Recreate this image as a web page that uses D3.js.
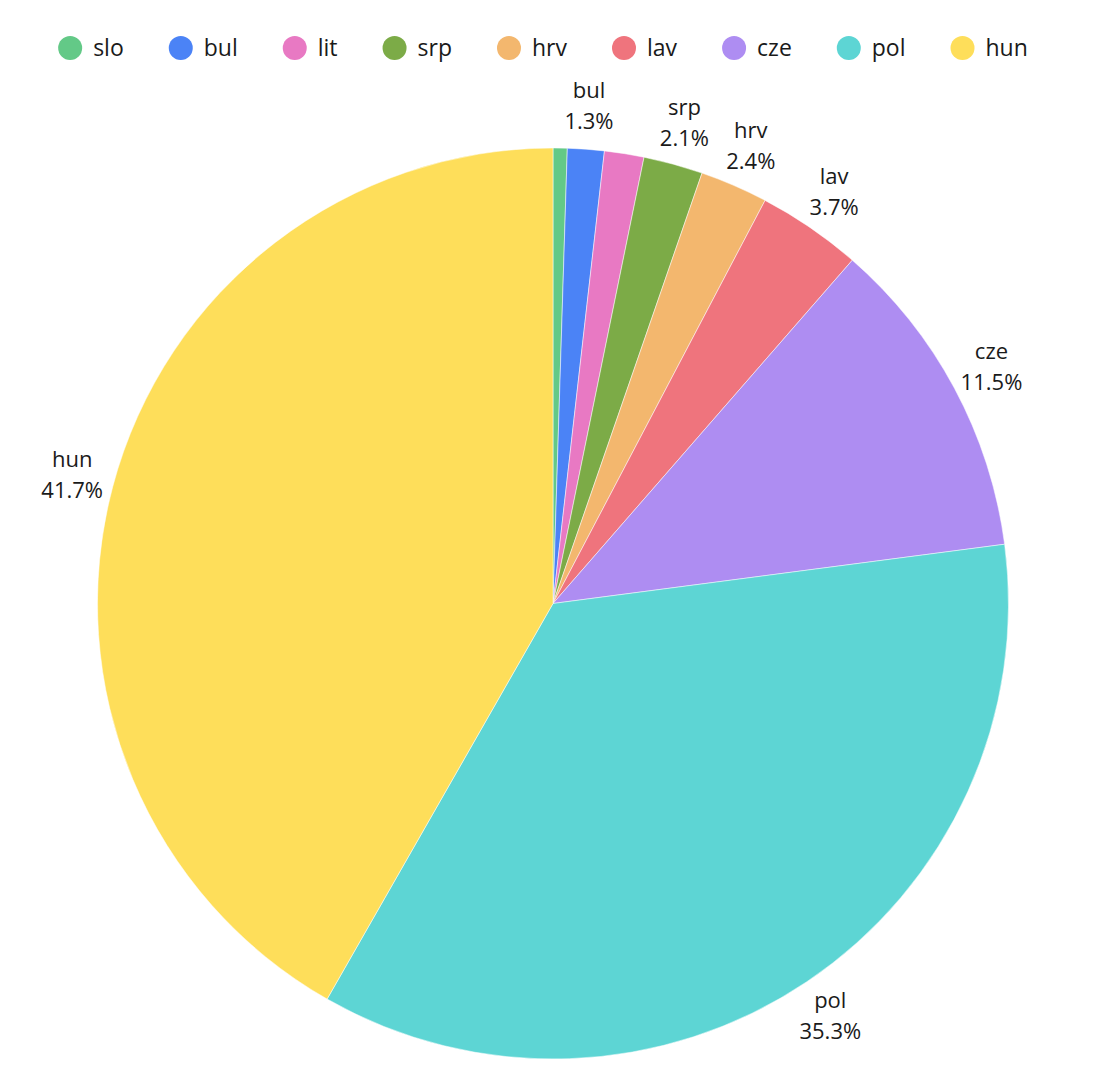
<!DOCTYPE html>
<html>
<head>
<meta charset="utf-8">
<script src="https://cdn.jsdelivr.net/npm/d3@7"></script>
<style>
  body { margin: 0; background: #fff; }
  svg { display: block; font-family: "Open Sans", sans-serif; }
</style>
</head>
<body>
<svg width="1100" height="1080"></svg>
<script>
var categories = ["slo", "bul", "lit", "srp", "hrv", "lav", "cze", "pol", "hun"];
var values = [0.5, 1.3, 1.4, 2.1, 2.4, 3.7, 11.5, 35.3, 41.7];
var colors = ["#63c987", "#4b83f6", "#e879c3", "#7cab47", "#f3b76e", "#ef747d", "#ae8df2", "#5dd5d4", "#fede5a"];

var svg = d3.select("svg"),
    cx = 553, cy = 603.5, radius = 455.5;

var data = categories.map((c, i) => ({ name: c, value: values[i], color: colors[i] }));
var total = d3.sum(values);

var pie = d3.pie().value(d => d.value).sort(null);
var arc = d3.arc().innerRadius(0).outerRadius(radius);
var labelArc = d3.arc().innerRadius(radius + 42).outerRadius(radius + 42);

var g = svg.append("g").attr("transform", "translate(" + cx + "," + cy + ")");
var arcs = pie(data);

g.selectAll("path")
    .data(arcs)
    .join("path")
    .attr("d", arc)
    .attr("fill", d => d.data.color)
    .attr("stroke", "#fff")
    .attr("stroke-width", 0.5);

// labels: skip tiny slices, then drop any that would collide with one already placed
var placed = [];
arcs.forEach(d => {
    var pct = d.data.value / total * 100;
    if (pct < 1) return;
    var p = labelArc.centroid(d);
    var t = g.append("g")
        .attr("transform", "translate(" + p[0] + "," + p[1] + ")")
        .attr("text-anchor", "middle")
        .attr("font-size", 22)
        .attr("fill", "#1a1a1a");
    t.append("text").attr("x", 0).attr("y", -9).text(d.data.name);
    t.append("text").attr("x", 0).attr("y", 22).text(pct.toFixed(1) + "%");
    var b = t.node().getBBox();
    var box = { x0: p[0] + b.x, x1: p[0] + b.x + b.width, y0: p[1] + b.y, y1: p[1] + b.y + b.height };
    var hit = placed.some(o => box.x0 < o.x1 && box.x1 > o.x0 && box.y0 < o.y1 && box.y1 > o.y0);
    if (hit) t.remove();
    else placed.push(box);
});

// legend
var legend = svg.append("g");
var x = 0;
data.forEach(d => {
    var item = legend.append("g").attr("transform", "translate(" + x + ",0)");
    item.append("circle").attr("cx", 0).attr("cy", 0).attr("r", 12).attr("fill", d.color);
    var txt = item.append("text")
        .attr("x", 23)
        .attr("y", 0)
        .attr("dy", "0.35em")
        .attr("font-size", 23)
        .attr("fill", "#1a1a1a")
        .text(d.name);
    x += 23 + txt.node().getComputedTextLength() + 57;
});
var lw = x - 57 + 12;
legend.attr("transform", "translate(" + (543 - lw / 2 + 12) + ",48)");
</script>
</body>
</html>
